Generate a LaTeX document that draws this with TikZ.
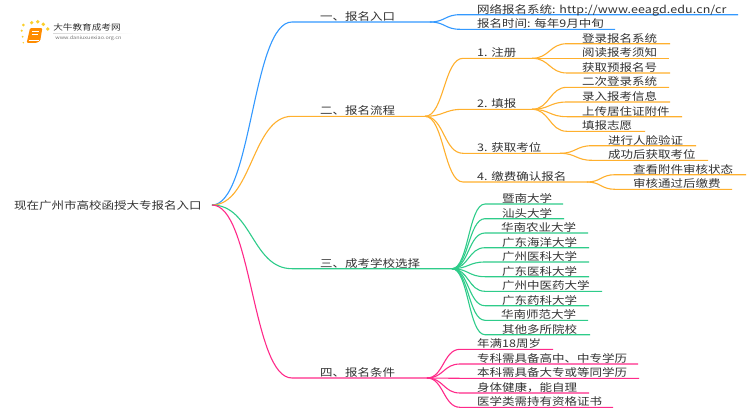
\documentclass[tikz,border=0pt]{standalone}
\usepackage{fontspec}
\usetikzlibrary{calc}
\setmainfont[FakeStretch=1.19]{Noto Sans CJK SC}
\definecolor{cblue}{HTML}{3399FF}
\definecolor{corange}{HTML}{FFB02E}
\definecolor{cgreen}{HTML}{2ECC8A}
\definecolor{cpink}{HTML}{FF2A8A}
\definecolor{ctext}{HTML}{333333}
\tikzset{
  curvelink/.style={to path={let \p1=(\tikztostart),\p2=(\tikztotarget) in
    .. controls ({(\x1+\x2)/2},\y1) and ({(\x1+\x2)/2},\y2) .. (\tikztotarget)}},
  lbl/.style={anchor=base west,inner sep=0pt,text=ctext,font=\fontsize{10.5}{12}\selectfont},
}
% name, parent, colour, bar start x, bar end x, bar y, text x, text
\newcommand{\branch}[8]{%
  \coordinate (#1-s) at (#4,#6);
  \coordinate (#1-e) at (#5,#6);
  \draw[#3,line width=1.1pt] (#2) to[curvelink] (#1-s) -- (#1-e);
  \node[lbl] (#1) at (#7,#6-1.6) {#8};
}
\begin{document}
\begin{tikzpicture}[x=1pt,y=-1pt]
\useasboundingbox (0,0) rectangle (750,410);
\fill[white] (0,0) rectangle (750,410);

% logo
\foreach \a/\b/\r in {23.3/25/1.5,31.7/22.7/1.8,37.7/21.7/1.9,43.3/24.3/1.9,47.7/29/1.9,21.7/30.7/1.2,22.7/36.7/1,23.3/42.7/.8}
  \fill[yellow!60!orange,fill opacity=.85] (\a,\b) circle (\r);
\fill[orange!90!yellow,rounded corners=1pt] (30,28.2) -- (42.3,28.2) -- (40.3,40.5) -- (37,42.8) -- (26.7,42.8) -- cycle;
\draw[white,line width=.5pt] (32,31.5) -- (39,31.5) (31.5,34) -- (38,34);
\draw[white,line width=.5pt] (28.5,40.7) -- (38.5,40.7);
\node[inner sep=0pt,text=ctext,font=\fontsize{8.1}{10}\selectfont] (logotitle) at (87,27) {大牛教育成考网};
\node[inner sep=0pt,text=gray!90!black,font=\fontsize{4.6}{6}\selectfont] (logourl) at (88.5,38.5) {www.daniuxuexiao.org.cn};
\shade[left color=gray!30,right color=white] (53,33.2) rectangle (133,33.7);

% root
\node[lbl] (root) at (14,209) {现在广州市高校函授大专报名入口};
\coordinate (r) at (212,205);

% 一
\branch{a}{r}{cblue}{292}{430}{22}{320}{一、报名入口}
\coordinate (a-j) at (430,22);
\branch{a1}{a-j}{cblue}{460}{738}{14.7}{477}{网络报名系统: {\addfontfeature{LetterSpace=1}http://www.eeagd.edu.cn/cr}}
\branch{a2}{a-j}{cblue}{460}{615}{29.3}{477}{报名时间: 每年9月中旬}

% 二
\branch{b}{r}{corange}{292}{425}{116.3}{320}{二、报名流程}
\branch{b1}{b-e}{corange}{463}{532}{58.3}{477}{1. 注册}
\branch{b11}{b1-e}{corange}{567}{670}{43.7}{582}{登录报名系统}
\branch{b12}{b1-e}{corange}{567}{669}{58.3}{582}{阅读报考须知}
\branch{b13}{b1-e}{corange}{567}{670}{73}{582}{获取预报名号}
\branch{b2}{b-e}{corange}{463}{532}{109.3}{477}{2. 填报}
\branch{b21}{b2-e}{corange}{567}{669}{87.3}{582}{二次登录系统}
\branch{b22}{b2-e}{corange}{567}{670}{102}{582}{录入报考信息}
\branch{b23}{b2-e}{corange}{567}{682}{116.7}{582}{上传居住证附件}
\branch{b24}{b2-e}{corange}{567}{645}{131.3}{582}{填报志愿}
\branch{b3}{b-e}{corange}{463}{560}{153.3}{477}{3. 获取考位}
\branch{b31}{b3-e}{corange}{592}{696}{145.7}{608}{进行人脸验证}
\branch{b32}{b3-e}{corange}{592}{708}{160.3}{608}{成功后获取考位}
\branch{b4}{b-e}{corange}{463}{587}{182}{477}{4. 缴费确认报名}
\branch{b41}{b4-e}{corange}{615}{746}{174.7}{633}{查看附件审核状态}
\branch{b42}{b4-e}{corange}{615}{732}{189.3}{633}{审核通过后缴费}

% 三
\branch{c}{r}{cgreen}{292}{452}{268.7}{320}{三、成考学校选择}
\branch{c1}{c-e}{cgreen}{485}{563}{204}{502}{暨南大学}
\branch{c2}{c-e}{cgreen}{485}{564}{218.7}{502}{汕头大学}
\branch{c3}{c-e}{cgreen}{485}{588}{233}{501}{华南农业大学}
\branch{c4}{c-e}{cgreen}{485}{589}{247.7}{502}{广东海洋大学}
\branch{c5}{c-e}{cgreen}{485}{589}{262}{502}{广州医科大学}
\branch{c6}{c-e}{cgreen}{485}{589}{276.7}{502}{广东医科大学}
\branch{c7}{c-e}{cgreen}{485}{602}{291.3}{502}{广州中医药大学}
\branch{c8}{c-e}{cgreen}{485}{589}{305.7}{502}{广东药科大学}
\branch{c9}{c-e}{cgreen}{485}{588}{320.3}{501}{华南师范大学}
\branch{c10}{c-e}{cgreen}{485}{590}{334.7}{502}{其他多所院校}

% 四
\branch{d}{r}{cpink}{292}{427}{378}{320}{四、报名条件}
\branch{d1}{d-e}{cpink}{460}{553}{349.3}{477}{年满18周岁}
\branch{d2}{d-e}{cpink}{460}{638}{364}{477}{专科需具备高中、中专学历}
\branch{d3}{d-e}{cpink}{460}{639}{378.3}{477}{本科需具备大专或等同学历}
\branch{d4}{d-e}{cpink}{460}{589}{393}{477}{身体健康，能自理}
\branch{d5}{d-e}{cpink}{460}{613}{407.3}{477}{医学类需持有资格证书}
\end{tikzpicture}
\end{document}
